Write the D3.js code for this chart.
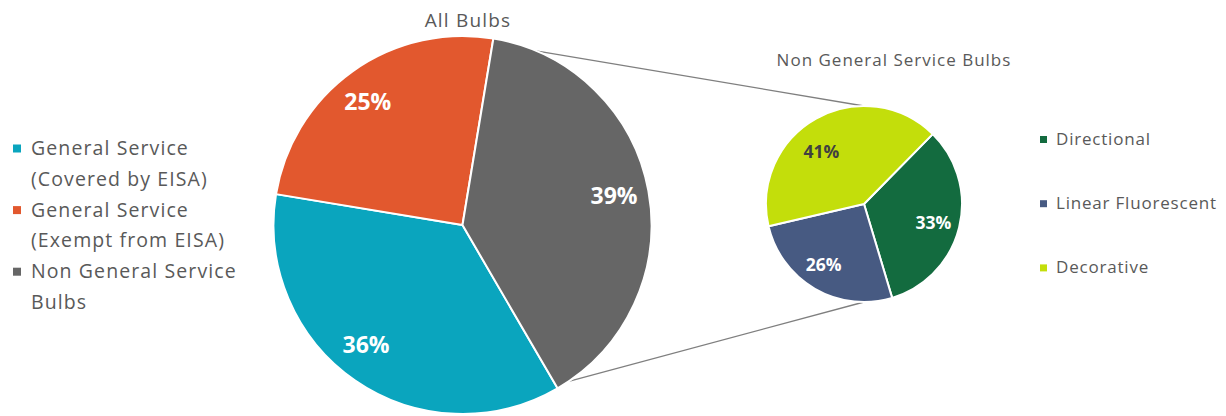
<!DOCTYPE html>
<html>
<head>
<meta charset="utf-8">
<script src="https://cdn.jsdelivr.net/npm/d3@7"></script>
<style>
  html, body { margin: 0; padding: 0; background: #ffffff; }
  svg { display: block; font-family: "Open Sans", "Segoe UI", sans-serif; }
</style>
</head>
<body>
<svg id="chart" width="1226" height="416"></svg>
<script>
// Bulb shipments: all bulbs, with the non-general-service share broken out
const mainCategories = ["General Service\n(Covered by EISA)", "General Service\n(Exempt from EISA)", "Non General Service\nBulbs"];
const mainValues = [36, 25, 39];
const mainColors = ["#0aa5be", "#e2582e", "#666666"];

const subCategories = ["Directional", "Linear Fluorescent", "Decorative"];
const subValues = [33, 26, 41];
const subColors = ["#136b3f", "#475a82", "#c3de0b"];
const subLabelColors = ["#ffffff", "#ffffff", "#404040"];

const mainTitle = "All Bulbs";
const subTitle = "Non General Service Bulbs";

const svg = d3.select("#chart");
const deg = Math.PI / 180;

// geometry of the two pies
const main = { cx: 462.5, cy: 225, r: 189, start: 149.8 * deg };
const sub = { cx: 864, cy: 204, r: 98, start: 44.5 * deg };

// small hand adjustments to label placement (dx, dy in px)
const mainLabelNudge = [[-9, -7], [-5, 2], [0, -1]];
const subLabelNudge = [[1, 2], [-5, 0], [-8, 9]];

const mainPie = d3.pie().sort(null).value(d => d)
  .startAngle(main.start).endAngle(main.start + 2 * Math.PI);
const subPie = d3.pie().sort(null).value(d => d)
  .startAngle(sub.start).endAngle(sub.start + 2 * Math.PI);

const mainArcs = mainPie(mainValues);
const subArcs = subPie(subValues);

const mainArc = d3.arc().innerRadius(0).outerRadius(main.r);
const subArc = d3.arc().innerRadius(0).outerRadius(sub.r);

const onCircle = (c, a) => [c.cx + c.r * Math.sin(a), c.cy - c.r * Math.cos(a)];

// connector lines from the "other" slice to the top and bottom of the breakout pie
const other = mainArcs[2];
const connectors = [
  [onCircle(main, other.startAngle + 13.5 * deg), [sub.cx, sub.cy - sub.r]],
  [onCircle(main, other.endAngle - 4 * deg), [sub.cx, sub.cy + sub.r]]
];
svg.append("g").selectAll("line").data(connectors).join("line")
  .attr("x1", d => d[0][0]).attr("y1", d => d[0][1])
  .attr("x2", d => d[1][0]).attr("y2", d => d[1][1])
  .attr("stroke", "#7f7f7f").attr("stroke-width", 1.3);

// main pie
const gMain = svg.append("g").attr("transform", `translate(${main.cx},${main.cy})`);
gMain.selectAll("path").data(mainArcs).join("path")
  .attr("d", mainArc)
  .attr("fill", (d, i) => mainColors[i])
  .attr("stroke", "#ffffff").attr("stroke-width", 2).attr("stroke-linejoin", "round");

const mainLabelArc = d3.arc().innerRadius(main.r * 0.815).outerRadius(main.r * 0.815);
gMain.selectAll("text").data(mainArcs).join("text")
  .attr("transform", (d, i) => {
    const [x, y] = mainLabelArc.centroid(d);
    return `translate(${x + mainLabelNudge[i][0]},${y + mainLabelNudge[i][1]})`;
  })
  .attr("text-anchor", "middle").attr("dy", "0.36em")
  .attr("fill", "#ffffff").attr("font-weight", 700).attr("font-size", 23)
  .text(d => d.data + "%");

// breakout pie
const gSub = svg.append("g").attr("transform", `translate(${sub.cx},${sub.cy})`);
gSub.selectAll("path").data(subArcs).join("path")
  .attr("d", subArc)
  .attr("fill", (d, i) => subColors[i])
  .attr("stroke", "#ffffff").attr("stroke-width", 2).attr("stroke-linejoin", "round");

const subLabelArc = d3.arc().innerRadius(sub.r * 0.72).outerRadius(sub.r * 0.72);
gSub.selectAll("text").data(subArcs).join("text")
  .attr("transform", (d, i) => {
    const [x, y] = subLabelArc.centroid(d);
    return `translate(${x + subLabelNudge[i][0]},${y + subLabelNudge[i][1]})`;
  })
  .attr("text-anchor", "middle").attr("dy", "0.36em")
  .attr("fill", (d, i) => subLabelColors[i]).attr("font-weight", 700).attr("font-size", 17.5)
  .text(d => d.data + "%");

// titles
svg.append("text").attr("x", 468).attr("y", 26.5).attr("text-anchor", "middle")
  .attr("fill", "#595959").attr("font-size", 19).attr("letter-spacing", 1.2).text(mainTitle);
svg.append("text").attr("x", 894).attr("y", 66).attr("text-anchor", "middle")
  .attr("fill", "#595959").attr("font-size", 17).attr("letter-spacing", 1.0).text(subTitle);

// left legend (main pie)
const legL = svg.append("g");
let line = 0;
mainCategories.forEach((name, i) => {
  const parts = name.split("\n");
  const y0 = 155 + line * 30.8;
  legL.append("rect").attr("x", 13).attr("y", y0 - 10.5).attr("width", 8).attr("height", 8)
    .attr("fill", mainColors[i]);
  parts.forEach((p, j) => {
    legL.append("text").attr("x", 31).attr("y", y0 + j * 30.8)
      .attr("fill", "#595959").attr("font-size", 19.5).attr("letter-spacing", 1.1).text(p);
  });
  line += parts.length;
});

// right legend (breakout pie)
const legR = svg.append("g");
subCategories.forEach((name, i) => {
  const y0 = 145 + i * 64.2;
  legR.append("rect").attr("x", 1040).attr("y", y0 - 9).attr("width", 7).attr("height", 7)
    .attr("fill", subColors[i]);
  legR.append("text").attr("x", 1056).attr("y", y0)
    .attr("fill", "#595959").attr("font-size", 17).attr("letter-spacing", 0.8).text(name);
});
</script>
</body>
</html>
